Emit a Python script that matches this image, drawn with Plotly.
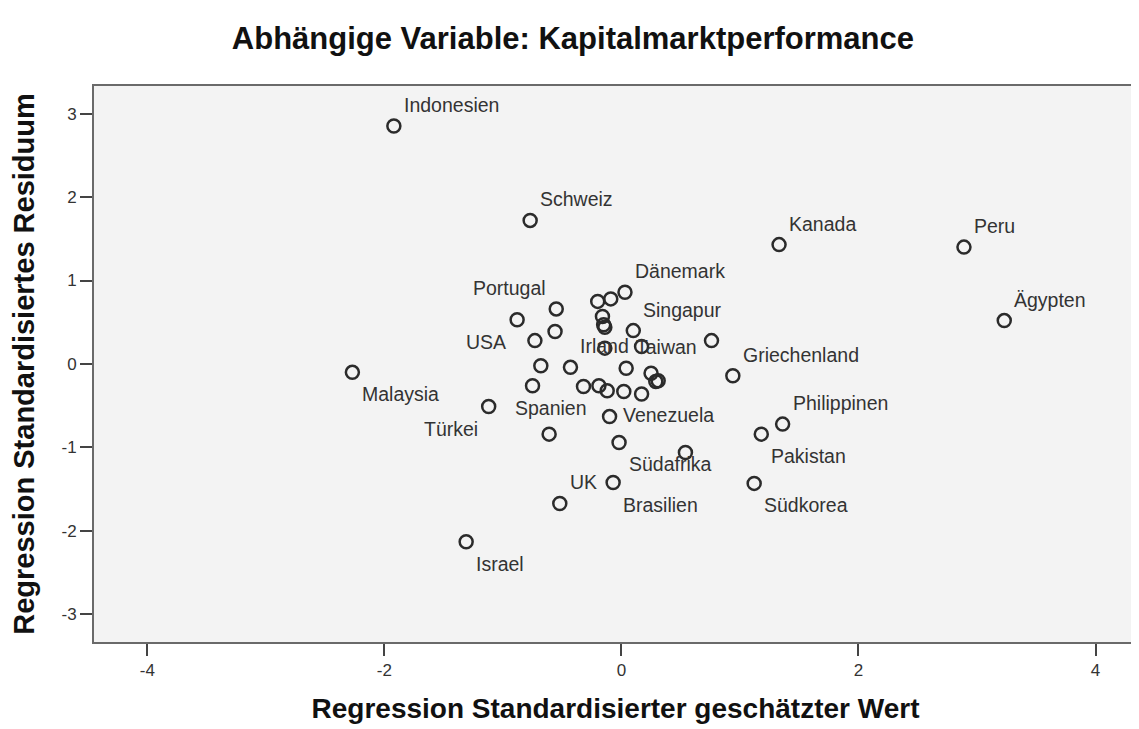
import plotly.graph_objects as go

# Regression standardisierter geschätzter Wert (x) und standardisiertes Residuum (y)
x_vals = [-1.92, -0.77, 1.33, 2.89, 3.23, -2.27, -1.12, -1.31, -0.52, -0.07, 1.12,
          -0.55, -0.88, -0.56, -0.73, -0.20, -0.09, 0.03, -0.16, -0.15, -0.14, 0.10,
          0.17, -0.14, 0.76, -0.68, -0.43, 0.04, 0.25, 0.31, 0.29, 0.94, -0.75,
          -0.32, -0.19, -0.12, 0.02, 0.17, -0.10, -0.61, -0.02, 0.54, 1.18, 1.36]
y_vals = [2.85, 1.72, 1.43, 1.40, 0.52, -0.10, -0.51, -2.13, -1.67, -1.42, -1.43,
          0.66, 0.53, 0.39, 0.28, 0.75, 0.78, 0.86, 0.57, 0.47, 0.44, 0.40,
          0.21, 0.19, 0.28, -0.02, -0.04, -0.05, -0.11, -0.20, -0.21, -0.14, -0.26,
          -0.27, -0.26, -0.32, -0.33, -0.36, -0.63, -0.84, -0.94, -1.06, -0.84, -0.72]
labels = ["Indonesien", "Schweiz", "Kanada", "Peru", "Ägypten", "Malaysia", "Türkei",
          "Israel", "UK", "Brasilien", "Südkorea",
          "Portugal", "USA", "", "", "", "", "Dänemark", "", "", "", "Singapur",
          "", "", "", "", "Irland", "Taiwan", "", "", "", "Griechenland", "",
          "", "", "", "", "", "Venezuela", "Spanien", "Südafrika", "", "Pakistan", "Philippinen"]
label_pos = ["tr", "tr", "tr", "tr", "tr", "br", "bl", "br", "tr", "br", "br",
             "tl", "bl", "", "", "", "", "tr", "", "", "", "tr",
             "", "", "", "", "tr", "tr", "", "", "", "tr", "",
             "", "", "", "", "", "mr", "tc", "br", "", "br", "tr"]
x_ticks = [-4, -2, 0, 2, 4]
y_ticks = [-3, -2, -1, 0, 1, 2, 3]

FONT = "Liberation Sans, Arial, sans-serif"

fig = go.Figure()
fig.add_trace(go.Scatter(
    x=x_vals, y=y_vals, mode="markers",
    marker=dict(symbol="circle-open", size=13, color="#2b2b2b", line=dict(width=2.5)),
    showlegend=False, hoverinfo="skip"))

shifts = {
    "tr": dict(xanchor="left", xshift=8, yshift=21),
    "tl": dict(xanchor="right", xshift=-8, yshift=21),
    "tc": dict(xanchor="center", xshift=2, yshift=26),
    "br": dict(xanchor="left", xshift=8, yshift=-22),
    "bl": dict(xanchor="right", xshift=-9, yshift=-22),
    "mr": dict(xanchor="left", xshift=11, yshift=2),
}
for xv, yv, txt, pos in zip(x_vals, y_vals, labels, label_pos):
    if not txt:
        continue
    fig.add_annotation(x=xv, y=yv, text=txt, showarrow=False, yanchor="middle",
                       font=dict(family=FONT, size=19.5, color="#333333"),
                       **shifts[pos])

fig.update_layout(
    width=1139, height=729,
    margin=dict(l=86, r=8, t=78, b=95),
    paper_bgcolor="white",
    plot_bgcolor="#f3f3f3",
    font=dict(family=FONT, color="#222222"),
    title=dict(text="<b>Abhängige Variable: Kapitalmarktperformance</b>",
               x=0.496, xanchor="center", y=0.958, yanchor="middle",
               font=dict(family=FONT, size=31, color="#111111")),
)
fig.update_xaxes(
    range=[-4.45, 4.35], tickvals=x_ticks, ticktext=[str(v) for v in x_ticks],
    showgrid=False, zeroline=False,
    showline=True, linecolor="#6a6a6a", linewidth=2, mirror=True,
    ticks="outside", ticklen=12, tickwidth=2, tickcolor="#444444",
    tickfont=dict(size=17, color="#333333"),
    title=dict(text="<b>Regression Standardisierter geschätzter Wert</b>",
               font=dict(family=FONT, size=28, color="#111111"), standoff=19),
)
fig.update_yaxes(
    range=[-3.33, 3.33], tickvals=y_ticks, ticktext=[str(v) for v in y_ticks],
    showgrid=False, zeroline=False,
    showline=True, linecolor="#6a6a6a", linewidth=2, mirror=True,
    ticks="outside", ticklen=12, tickwidth=2, tickcolor="#444444",
    tickfont=dict(size=17, color="#333333"),
    title=dict(text="<b>Regression Standardisiertes Residuum</b>",
               font=dict(family=FONT, size=29, color="#111111"), standoff=18),
)

fig.write_html("out.html")
